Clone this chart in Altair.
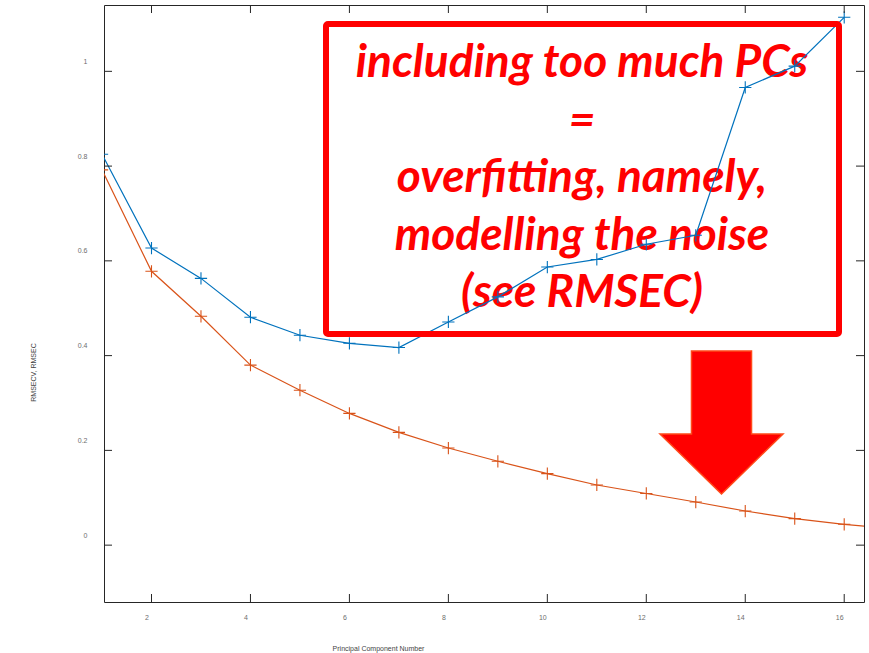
import altair as alt
import pandas as pd

# Cross-validation and calibration errors per number of principal components
pcs_cv = [1, 2, 3, 4, 5, 6, 7, 8, 9, 10, 11, 12, 13, 14, 15, 16]
rmsecv = [0.825, 0.627, 0.563, 0.481, 0.443, 0.426, 0.417, 0.471, 0.524, 0.587,
          0.603, 0.635, 0.654, 0.966, 1.011, 1.114]
pcs_c = [1, 2, 3, 4, 5, 6, 7, 8, 9, 10, 11, 12, 13, 14, 15, 16, 17]
rmsec = [0.792, 0.578, 0.483, 0.380, 0.327, 0.278, 0.238, 0.205, 0.177, 0.151,
         0.127, 0.109, 0.091, 0.072, 0.056, 0.044, 0.034]

x_ticks = [2, 4, 6, 8, 10, 12, 14, 16]
y_ticks = [0, 0.2, 0.4, 0.6, 0.8, 1]

note_lines = ["including too much PCs", "=", "overfitting, namely,",
              "modelling the noise", "(see RMSEC)"]

W, H = 760, 597
AX = "#262626"
LBL = "#6e6e6e"
BLUE = "#0072BD"
ORANGE = "#D95319"

cv = pd.DataFrame({"pc": pcs_cv, "err": rmsecv})
cal = pd.DataFrame({"pc": pcs_c, "err": rmsec})
xt = pd.DataFrame({"pc": x_ticks})
yt = pd.DataFrame({"err": y_ticks})
one = pd.DataFrame({"k": [0]})

xs = alt.Scale(domain=[1.04, 16.4], nice=False, zero=False)
ys = alt.Scale(domain=[-0.12, 1.14], nice=False, zero=False)

x_axis = alt.Axis(values=x_ticks, grid=False, domain=False, ticks=False,
                  labelFont="Liberation Sans", labelFontSize=7, labelColor=LBL,
                  labelPadding=11, labelOffset=-5,
                  title="Principal Component Number", titleFont="Liberation Sans",
                  titleFontSize=7, titleFontWeight="normal", titleColor="#444444",
                  titleX=274, titleY=46, titleAlign="center",
                  titleBaseline="middle")
y_axis = alt.Axis(values=y_ticks, grid=False, domain=False, ticks=False, format="~g",
                  labelFont="Liberation Sans", labelFontSize=7, labelColor=LBL,
                  labelPadding=17, labelOffset=-10,
                  title="RMSECV, RMSEC", titleFont="Liberation Sans",
                  titleFontSize=7, titleFontWeight="normal", titleColor="#444444",
                  titleX=-71, titleY=367, titleAngle=-90, titleAlign="center",
                  titleBaseline="middle")


def X():
    return alt.X("pc:Q", scale=xs, axis=x_axis)


def Y():
    return alt.Y("err:Q", scale=ys, axis=y_axis)


plus = "M -1 0 L 1 0 M 0 -1 L 0 1"


def series(df, color):
    line = alt.Chart(df).mark_line(color=color, strokeWidth=1.2, clip=True).encode(x=X(), y=Y())
    pts = alt.Chart(df).mark_point(shape=plus, size=150, filled=False, color=color,
                                   strokeWidth=1.1, opacity=1, clip=True).encode(x=X(), y=Y())
    return line + pts


# Inward ticks on all four sides of the box
tick_style = dict(color=AX, strokeWidth=1)
bottom_ticks = alt.Chart(xt).mark_rule(**tick_style).encode(
    x=X(), y=alt.value(H), y2=alt.value(H - 8))
top_ticks = alt.Chart(xt).mark_rule(**tick_style).encode(
    x=X(), y=alt.value(0), y2=alt.value(8))
left_ticks = alt.Chart(yt).mark_rule(**tick_style).encode(
    y=Y(), x=alt.value(0), x2=alt.value(8))
right_ticks = alt.Chart(yt).mark_rule(**tick_style).encode(
    y=Y(), x=alt.value(W), x2=alt.value(W - 8))

# Annotation: bold red note in a framed box, with a down arrow to RMSEC
note = alt.Chart(one).mark_text(
    text=note_lines, font="Lato", fontSize=46, fontWeight="bold", fontStyle="italic",
    color="#ff0000", align="center", baseline="alphabetic", lineHeight=57.5
).encode(x=alt.value(478), y=alt.value(72))

frame = alt.Chart(one).mark_rect(
    fill=None, fillOpacity=0, stroke="#ff0000", strokeWidth=6, cornerRadius=2
).encode(x=alt.value(222), x2=alt.value(735), y=alt.value(19), y2=alt.value(329))

arrow_path = ("M -0.42 -1 L 0.42 -1 L 0.42 0.16 L 0.86 0.16 L 0 1 "
              "L -0.86 0.16 L -0.42 0.16 Z")
arrow = alt.Chart(one).mark_point(
    shape=arrow_path, size=143 * 143, filled=True, fill="#ff0000", fillOpacity=1,
    stroke="#ff4a1a", strokeWidth=1.5, opacity=1
).encode(x=alt.value(617.5), y=alt.value(417.5))

chart = alt.layer(
    note,
    series(cv, BLUE),
    series(cal, ORANGE),
    bottom_ticks, top_ticks, left_ticks, right_ticks,
    frame, arrow,
).properties(
    width=W, height=H,
    autosize=alt.AutoSizeParams(type="none"),
    padding={"left": 104, "top": 5, "right": 5, "bottom": 51},
    background="white",
).configure_view(stroke=AX, strokeWidth=1)

chart.save("out.html", embed_options={"renderer": "svg", "actions": False})
